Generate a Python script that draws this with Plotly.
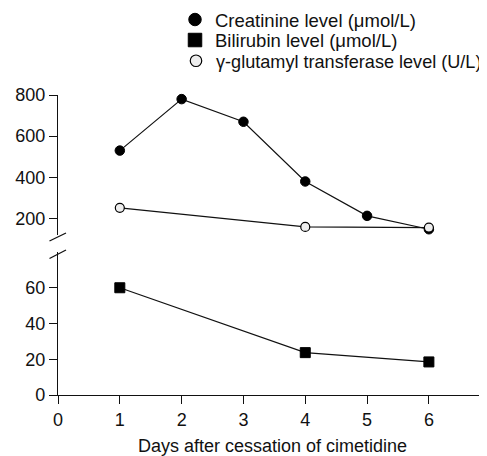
import plotly.graph_objects as go

days_creat = [1, 2, 3, 4, 5, 6]
creatinine = [530, 780, 670, 380, 213, 148]
days_bili = [1, 4, 6]
bilirubin = [60, 23.7, 18.5]
days_ggt = [1, 4, 6]
ggt = [252, 159, 156]

series_names = ["Creatinine level (\u03bcmol/L)", "Bilirubin level (\u03bcmol/L)",
                "\u03b3-glutamyl transferase level (U/L)"]

x_ticks = [0, 1, 2, 3, 4, 5, 6]
y_low_ticks = [0, 20, 40, 60]
y_up_ticks = [200, 400, 600, 800]

FONT = "Liberation Sans, Arial, sans-serif"
INK = "#111111"
FS = 18
LFS = 18.5

# page has an 8px body margin; compensate
OFF = 8
L, T, B = 58 - OFF, 95 - OFF, 61
W, H = 487 - OFF, 456 - OFF
PW, PH = W - L, H - T - B

def px_x(x):
    return (x - 58) / PW

def px_y(y):
    return (395 - y) / PH

fig = go.Figure()

# data lines
fig.add_trace(go.Scatter(x=days_creat, y=creatinine, mode="lines", xaxis="x", yaxis="y2",
                         line=dict(color=INK, width=1.2), showlegend=False, hoverinfo="skip"))
fig.add_trace(go.Scatter(x=days_bili, y=bilirubin, mode="lines", xaxis="x", yaxis="y",
                         line=dict(color=INK, width=1.2), showlegend=False, hoverinfo="skip"))
fig.add_trace(go.Scatter(x=days_ggt, y=ggt, mode="lines", xaxis="x", yaxis="y2",
                         line=dict(color=INK, width=1.2), showlegend=False, hoverinfo="skip"))

# data markers
fig.add_trace(go.Scatter(x=days_creat, y=creatinine, mode="markers", xaxis="x", yaxis="y2",
                         name=series_names[0], cliponaxis=False, showlegend=False,
                         marker=dict(symbol="circle", size=9.5, color="black",
                                     line=dict(color="black", width=1))))
fig.add_trace(go.Scatter(x=days_bili, y=bilirubin, mode="markers", xaxis="x", yaxis="y",
                         name=series_names[1], cliponaxis=False, showlegend=False,
                         marker=dict(symbol="square", size=10, color="black",
                                     line=dict(color="black", width=1))))
fig.add_trace(go.Scatter(x=days_ggt, y=ggt, mode="markers", xaxis="x", yaxis="y2",
                         name=series_names[2], cliponaxis=False, showlegend=False,
                         marker=dict(symbol="circle", size=9, color="#eeeeee",
                                     line=dict(color="black", width=1.2))))

# legend keys (one legend per row)
legend_markers = [
    dict(symbol="circle", size=12.5, color="black", line=dict(color="black", width=1)),
    dict(symbol="square", size=13.5, color="black", line=dict(color="black", width=1)),
    dict(symbol="circle", size=11.5, color="#eeeeee", line=dict(color="black", width=1.2)),
]
legend_ids = ["legend", "legend2", "legend3"]
for name, mk, lid in zip(series_names, legend_markers, legend_ids):
    fig.add_trace(go.Scatter(x=[None], y=[None], mode="markers", name=name, marker=mk,
                             xaxis="x", yaxis="y2", showlegend=True, legend=lid))

axis_common = dict(showline=True, linecolor=INK, linewidth=1.3, ticks="outside",
                   ticklen=8, tickwidth=1.3, tickcolor=INK, showgrid=False,
                   zeroline=False, tickfont=dict(size=FS, color=INK, family=FONT))

shapes = []
for y0, y1 in [(241, 233), (258.5, 250)]:
    shapes.append(dict(type="line", xref="paper", yref="paper",
                       x0=px_x(49.5), x1=px_x(66), y0=px_y(y0), y1=px_y(y1),
                       line=dict(color=INK, width=1.3)))

def legend_at(row_y, right=False, size=LFS):
    d = dict(y=px_y(row_y), yanchor="middle",
             font=dict(size=size, family=FONT, color=INK), bgcolor="rgba(0,0,0,0)",
             itemwidth=30, borderwidth=0)
    if right:
        d.update(x=1.0, xanchor="right")
    else:
        d.update(x=px_x(175), xanchor="left")
    return d

fig.update_layout(
    width=W, height=H,
    margin=dict(l=L, r=0, t=T, b=B, autoexpand=False),
    paper_bgcolor="white", plot_bgcolor="white",
    font=dict(family=FONT, size=FS, color=INK),
    xaxis=dict(range=[0, 6.94], tickvals=x_ticks, anchor="y",
               title=dict(text="Days after cessation of cimetidine", standoff=10,
                          font=dict(size=FS, family=FONT, color=INK)),
               **axis_common),
    yaxis=dict(domain=[0, px_y(252)], range=[0, 80], tickvals=y_low_ticks, anchor="x",
               **axis_common),
    yaxis2=dict(domain=[px_y(235), 1], range=[120, 800], tickvals=y_up_ticks, anchor="x",
                **axis_common),
    legend=legend_at(20),
    legend2=legend_at(40.5),
    legend3=legend_at(61, right=True, size=18.1),
    shapes=shapes,
    showlegend=True,
)

fig.write_html("out.html")
